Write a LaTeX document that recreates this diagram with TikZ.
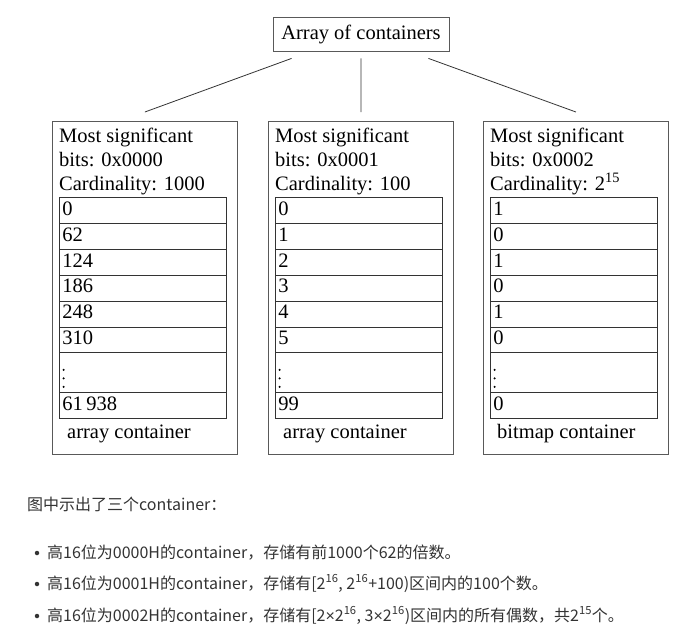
\documentclass[tikz,border=0pt]{standalone}
\usepackage{fontspec}
\setmainfont{Liberation Serif}
\newfontfamily\cjk{Noto Sans CJK SC}
\newfontfamily\narrowsans{Liberation Sans}
\usetikzlibrary{shapes,positioning,calc}

\newcommand{\bigfont}{\fontsize{20.5}{24}\selectfont}
\newcommand{\notefont}{\cjk\fontsize{16}{19}\selectfont}
\newcommand{\rowstrut}{\rule[-7.7pt]{0pt}{25pt}}
\newcommand{\dotstrut}{\rule[-3.6pt]{0pt}{39.1pt}}
\newcommand{\timessign}{{\narrowsans ×}}

\tikzset{rect/.style={
    draw=black!80,
    line width=0.9pt,
    rectangle split,
    rectangle split parts=8,
    rectangle split part align=left,
    text width=161pt,
    inner xsep=3pt,
    inner ysep=0pt,
    align=left,
    font=\bigfont,
    anchor=north west,
  }}
\tikzset{box/.style={
    draw=black!65,
    line width=0.8pt,
    minimum width=185pt,
    minimum height=333pt,
    anchor=north west,
    inner sep=0pt,
  }}
\tikzset{line/.style={anchor=base west, inner sep=0pt, font=\bigfont}}
\tikzset{link/.style={draw=black!80, line width=0.8pt}}
\tikzset{note/.style={anchor=base west, inner sep=0pt, font=\notefont, text=black!80}}
\tikzset{bullet/.style={circle, fill=black!80, inner sep=0pt, minimum size=4.5pt}}

\begin{document}
\begin{tikzpicture}[x=1pt, y=-1pt]
        \useasboundingbox (0,0) rectangle (698,637);

        \node (aoc) [draw=black!65, line width=0.8pt, font=\bigfont, minimum width=176pt, minimum height=34pt, inner sep=0pt] at (361,34) {Array of containers};

        % container 0x0000
        \node (box1) [box] at (52,121) {};
        \node (msb1) [line] at ($(box1.north west) + (7,21)$) {Most significant};
        \node (bits1) [line] at ($(box1.north west) + (7,45)$) {bits: 0x0000};
        \node (card1) [line] at ($(box1.north west) + (7,69)$) {Cardinality: 1000};
        \node (list1) [rect] at ($(box1.north west) + (7,76)$) {
          \rowstrut 0
          \nodepart{two}    \rowstrut 62
          \nodepart{three}  \rowstrut 124
          \nodepart{four}   \rowstrut 186
          \nodepart{five}   \rowstrut 248
          \nodepart{six}    \rowstrut 310
          \nodepart{seven}  \dotstrut
          \nodepart{eight}  \rowstrut 61\,938
        };
        \node (kind1) [line] at ($(box1.north west) + (15,317)$) {array container};

        % container 0x0001
        \node (box2) [box] at (268,121) {};
        \node (msb2) [line] at ($(box2.north west) + (7,21)$) {Most significant};
        \node (bits2) [line] at ($(box2.north west) + (7,45)$) {bits: 0x0001};
        \node (card2) [line] at ($(box2.north west) + (7,69)$) {Cardinality: 100};
        \node (list2) [rect] at ($(box2.north west) + (7,76)$) {
          \rowstrut 0
          \nodepart{two}    \rowstrut 1
          \nodepart{three}  \rowstrut 2
          \nodepart{four}   \rowstrut 3
          \nodepart{five}   \rowstrut 4
          \nodepart{six}    \rowstrut 5
          \nodepart{seven}  \dotstrut
          \nodepart{eight}  \rowstrut 99
        };
        \node (kind2) [line] at ($(box2.north west) + (15,317)$) {array container};

        % container 0x0002
        \node (box3) [box] at (483,121) {};
        \node (msb3) [line] at ($(box3.north west) + (7,21)$) {Most significant};
        \node (bits3) [line] at ($(box3.north west) + (7,45)$) {bits: 0x0002};
        \node (card3) [line] at ($(box3.north west) + (7,69)$) {Cardinality: 2\textsuperscript{15}};
        \node (list3) [rect] at ($(box3.north west) + (7,76)$) {
          \rowstrut 1
          \nodepart{two}    \rowstrut 0
          \nodepart{three}  \rowstrut 1
          \nodepart{four}   \rowstrut 0
          \nodepart{five}   \rowstrut 1
          \nodepart{six}    \rowstrut 0
          \nodepart{seven}  \dotstrut
          \nodepart{eight}  \rowstrut 0
        };
        \node (kind3) [line] at ($(box3.north west) + (14,317)$) {bitmap container};

        % vertical dots in the gap rows
        \foreach \l in {list1,list2,list3}
          \foreach \d in {0,1,2}
            \fill ($(\l.seven split west) + (4.6,-6-8.5*\d)$) circle (1.15pt);

        \draw [link] ($(aoc.south west) + (19,7)$) -- ($(box1.north) + (0,-9)$);
        \draw [link] ($(aoc.south) + (0,7)$) -- ($(box2.north) + (0,-9)$);
        \draw [link] ($(aoc.south east) + (-21,7)$) -- ($(box3.north) + (0,-9)$);

        % notes below
        \node (intro) [note] at (27,510) {图中示出了三个container：};
        \node (dot1) [bullet] at (37,553) {};
        \node (dot2) [bullet] at (37,584) {};
        \node (dot3) [bullet] at (37,616) {};
        \node (item1) [note] at (47,558) {高16位为0000H的container，存储有前1000个62的倍数。};
        \node (item2) [note] at (47,589) {高16位为0001H的container，存储有[2\textsuperscript{16}, 2\textsuperscript{16}+100)区间内的100个数。};
        \node (item3) [note] at (47,621) {高16位为0002H的container，存储有[2\timessign2\textsuperscript{16}, 3\timessign2\textsuperscript{16})区间内的所有偶数，共2\textsuperscript{15}个。};
      \end{tikzpicture}
\end{document}
